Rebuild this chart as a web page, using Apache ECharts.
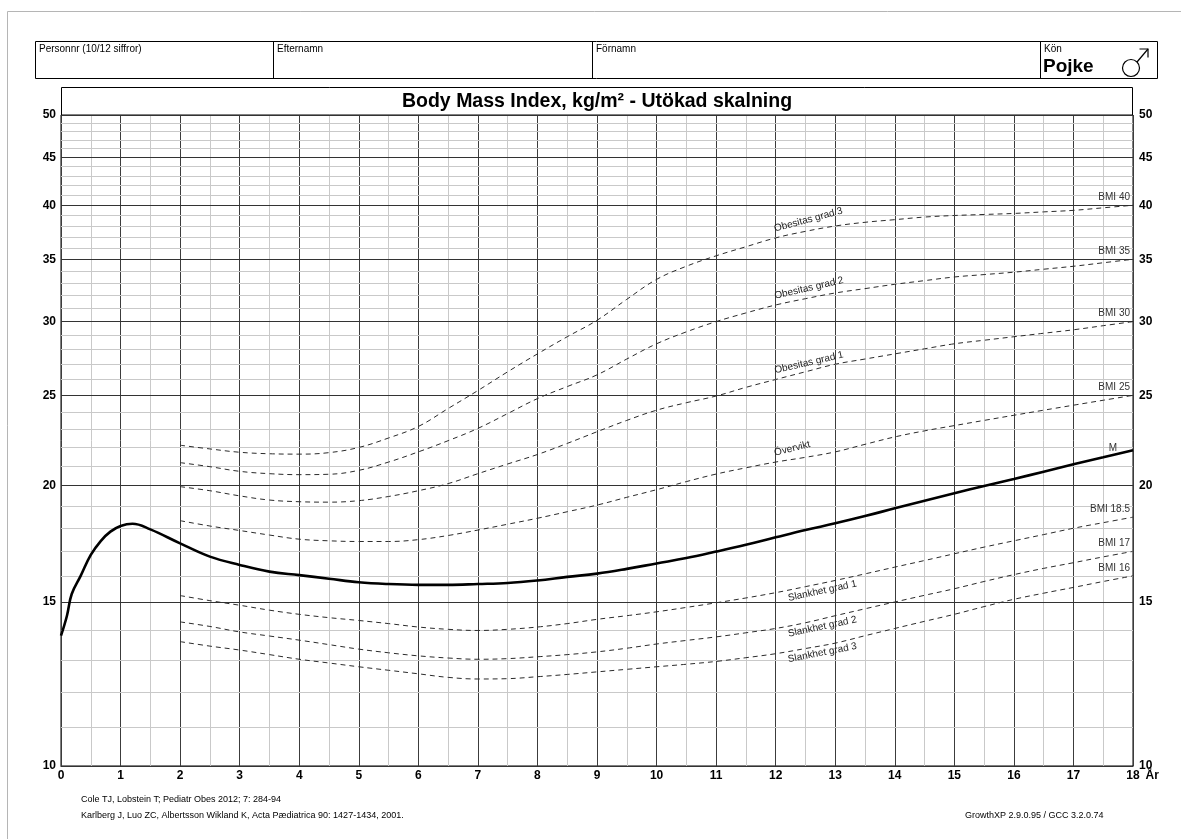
<!DOCTYPE html>
<html>
<head>
<meta charset="utf-8">
<title>Body Mass Index, kg/m² - Utökad skalning</title>
<script src="https://cdn.jsdelivr.net/npm/echarts@6/dist/echarts.min.js"></script>
<style>
  html, body { margin: 0; padding: 0; background: #fff; }
  #chart { width: 1181px; height: 839px; }
</style>
</head>
<body>
<div id="chart"></div>
<script>
// Age (years) at which the cut-off curves are tabulated
const refAges = [2, 2.5, 3, 3.5, 4, 4.5, 5, 5.5, 6, 6.5, 7, 7.5, 8, 8.5, 9, 9.5, 10,
  10.5, 11, 11.5, 12, 12.5, 13, 13.5, 14, 14.5, 15, 15.5, 16, 16.5, 17, 17.5, 18];

// Cole & Lobstein cut-offs (BMI at each age, reaching the adult value at 18)
const bmi40 = [22.1, 21.9, 21.72, 21.64, 21.62, 21.7, 21.98, 22.5, 23.15, 24.2, 25.3, 26.5, 27.7,
  28.9, 30.1, 31.7, 33.3, 34.4, 35.3, 36.1, 36.9, 37.5, 38.0, 38.35, 38.6, 38.85, 39.0,
  39.1, 39.2, 39.35, 39.5, 39.75, 40.0];
const bmi35 = [21.17, 20.96, 20.72, 20.6, 20.55, 20.57, 20.77, 21.2, 21.74, 22.35, 23.04, 23.9,
  24.8, 25.55, 26.3, 27.35, 28.4, 29.25, 30.0, 30.65, 31.26, 31.75, 32.2, 32.55, 32.9, 33.2,
  33.5, 33.7, 33.9, 34.15, 34.4, 34.7, 35.0];
const bmi30 = [19.95, 19.75, 19.5, 19.3, 19.22, 19.2, 19.27, 19.47, 19.75, 20.1, 20.6, 21.1, 21.6,
  22.2, 22.85, 23.5, 24.1, 24.55, 24.96, 25.5, 26.0, 26.5, 27.0, 27.35, 27.7, 28.05, 28.4,
  28.65, 28.9, 29.15, 29.4, 29.7, 30.0];
const bmi25 = [18.34, 18.1, 17.9, 17.7, 17.52, 17.45, 17.42, 17.42, 17.5, 17.68, 17.92, 18.18,
  18.45, 18.75, 19.06, 19.43, 19.8, 20.2, 20.58, 20.9, 21.2, 21.45, 21.74, 22.15, 22.56, 22.9,
  23.2, 23.5, 23.8, 24.1, 24.4, 24.7, 25.0];
const bmi185 = [15.24, 15.05, 14.88, 14.7, 14.55, 14.43, 14.33, 14.22, 14.1, 14.02, 13.98, 14.02,
  14.1, 14.22, 14.37, 14.5, 14.64, 14.8, 14.97, 15.15, 15.35, 15.58, 15.82, 16.08, 16.35, 16.62,
  16.9, 17.18, 17.45, 17.72, 18.0, 18.25, 18.5];
const bmi17 = [14.28, 14.12, 13.93, 13.79, 13.65, 13.5, 13.35, 13.23, 13.13, 13.06, 13.02, 13.04,
  13.1, 13.17, 13.26, 13.38, 13.52, 13.64, 13.76, 13.9, 14.05, 14.25, 14.5, 14.75, 15.0, 15.25,
  15.5, 15.78, 16.05, 16.3, 16.53, 16.77, 17.0];
const bmi16 = [13.6, 13.45, 13.32, 13.17, 13.02, 12.9, 12.78, 12.67, 12.56, 12.45, 12.4, 12.41,
  12.47, 12.54, 12.62, 12.7, 12.78, 12.86, 12.95, 13.07, 13.2, 13.37, 13.55, 13.8, 14.05, 14.3,
  14.55, 14.83, 15.1, 15.33, 15.55, 15.78, 16.0];

// Median BMI (M) for boys, birth to 18 years
const medianAges = [0, 0.1, 0.18, 0.33, 0.5, 0.67, 0.83, 1, 1.2, 1.5, 2, 2.5, 3, 3.5, 4, 4.5, 5,
  5.5, 6, 6.5, 7, 7.5, 8, 8.5, 9, 9.5, 10, 10.5, 11, 11.5, 12, 12.5, 13, 13.5, 14, 14.5, 15,
  15.5, 16, 16.5, 17, 17.5, 18];
const medianBmi = [13.8, 14.5, 15.3, 16.0, 16.85, 17.45, 17.85, 18.1, 18.2, 17.95, 17.34, 16.78,
  16.44, 16.17, 16.03, 15.89, 15.75, 15.68, 15.65, 15.65, 15.68, 15.72, 15.82, 15.96, 16.09,
  16.28, 16.5, 16.72, 16.99, 17.28, 17.6, 17.92, 18.22, 18.55, 18.91, 19.27, 19.63, 19.98,
  20.33, 20.7, 21.08, 21.45, 21.83];

// BMI gridlines: labelled every 5 units, fine lines every unit
const majorTicks = [10, 15, 20, 25, 30, 35, 40, 45, 50];
const minorTicks = [11, 12, 13, 14, 16, 17, 18, 19, 21, 22, 23, 24, 26, 27, 28, 29,
  31, 32, 33, 34, 36, 37, 38, 39, 41, 42, 43, 44, 46, 47, 48, 49];

// Curve names and their end labels
const curveNames = ['Obesitas grad 3', 'Obesitas grad 2', 'Obesitas grad 1', 'Övervikt',
  'Slankhet grad 1', 'Slankhet grad 2', 'Slankhet grad 3'];
const endLabels = ['BMI 40', 'BMI 35', 'BMI 30', 'BMI 25', 'BMI 18.5', 'BMI 17', 'BMI 16'];
const curveValues = [bmi40, bmi35, bmi30, bmi25, bmi185, bmi17, bmi16];

const FONT = '"Liberation Sans", Arial, Helvetica, sans-serif';
const pair = (xs, ys) => xs.map((x, i) => [x, ys[i]]);

// Horizontal gridlines with the BMI values printed on both sides
const axisLabelStyle = { color: '#000', fontFamily: FONT, fontWeight: 'bold', fontSize: 12 };
const gridLines = [];
minorTicks.forEach(v => gridLines.push({
  yAxis: v, lineStyle: { color: '#c9c9c9', width: 1, type: 'solid' }, label: { show: false }
}));
majorTicks.forEach(v => {
  gridLines.push({
    yAxis: v, lineStyle: { color: '#333', width: 1, type: 'solid' },
    label: Object.assign({ show: true, position: 'start', distance: 5, formatter: String(v) }, axisLabelStyle)
  });
  gridLines.push({
    yAxis: v, lineStyle: { color: '#333', width: 1, type: 'solid' },
    label: Object.assign({ show: true, position: 'end', distance: 6, formatter: String(v) }, axisLabelStyle)
  });
});

const labelAt12 = refAges.indexOf(12);
// rotation (degrees) and side of the curve for the in-chart names
const nameRotate = [15, 13, 13, 14, 12, 12, 11];
const nameBelow = [false, false, false, false, true, true, true];

const curveSeries = curveValues.map((vals, k) => ({
  name: curveNames[k],
  type: 'line',
  data: pair(refAges, vals),
  smooth: 0.4,
  symbol: 'none',
  z: 10,
  silent: true,
  lineStyle: { color: '#2b2b2b', width: 1, type: [5, 4] },
  markPoint: {
    symbol: 'circle', symbolSize: 0, silent: true, z: 11,
    itemStyle: { color: 'transparent' },
    data: [
      {
        coord: [18, vals[vals.length - 1]],
        label: {
          show: true, formatter: endLabels[k], position: 'top', align: 'right',
          distance: 3, offset: [-3, 0], color: '#333', fontFamily: FONT, fontSize: 10
        }
      },
      {
        coord: [12, vals[labelAt12]],
        label: {
          show: true, formatter: curveNames[k], position: 'right', distance: 0,
          align: 'left', verticalAlign: nameBelow[k] ? 'top' : 'bottom',
          offset: nameBelow[k] ? [11, 3] : [1, -4],
          rotate: nameRotate[k], color: '#222', fontFamily: FONT, fontSize: 10
        }
      }
    ]
  }
}));

const chart = echarts.init(document.getElementById('chart'), null, { renderer: 'canvas' });

chart.setOption({
  animation: false,
  backgroundColor: '#fff',
  grid: {
    left: 61, right: 48, top: 115, bottom: 73,
    show: true, borderColor: '#000', borderWidth: 1, backgroundColor: 'transparent'
  },
  xAxis: {
    type: 'value', min: 0, max: 18, interval: 1,
    name: 'År', nameLocation: 'end', nameGap: 9,
    nameTextStyle: { color: '#000', fontFamily: FONT, fontWeight: 'bold', fontSize: 12,
      verticalAlign: 'top', align: 'left', padding: [4, 0, 0, 0] },
    axisLine: { show: true, lineStyle: { color: '#000', width: 1 } },
    axisTick: { show: false },
    axisLabel: { color: '#000', fontFamily: FONT, fontWeight: 'bold', fontSize: 12, margin: 4,
      showMinLabel: true, showMaxLabel: true },
    splitLine: { show: true, lineStyle: { color: '#3c3c3c', width: 1 } },
    minorTick: { show: false, splitNumber: 2 },
    minorSplitLine: { show: true, lineStyle: { color: '#c9c9c9', width: 1 } }
  },
  yAxis: {
    type: 'log', logBase: 10, min: 10, max: 50,
    axisLine: { show: false }, axisTick: { show: false },
    axisLabel: { show: false }, splitLine: { show: false }
  },
  graphic: [
    // page frame
    { type: 'polyline', silent: true, shape: { points: [[7.5, 839], [7.5, 11.5], [1181, 11.5]] },
      style: { stroke: '#b5b5b5', fill: null, lineWidth: 1 } },
    // patient header
    { type: 'rect', silent: true, shape: { x: 35.5, y: 41.5, width: 1122, height: 37 },
      style: { stroke: '#000', fill: null, lineWidth: 1 } },
    { type: 'line', silent: true, shape: { x1: 273.5, y1: 41.5, x2: 273.5, y2: 78.5 }, style: { stroke: '#000', lineWidth: 1 } },
    { type: 'line', silent: true, shape: { x1: 592.5, y1: 41.5, x2: 592.5, y2: 78.5 }, style: { stroke: '#000', lineWidth: 1 } },
    { type: 'line', silent: true, shape: { x1: 1040.5, y1: 41.5, x2: 1040.5, y2: 78.5 }, style: { stroke: '#000', lineWidth: 1 } },
    { type: 'text', silent: true, x: 39, y: 44, style: { text: 'Personnr (10/12 siffror)', font: '10px ' + FONT, fill: '#000' } },
    { type: 'text', silent: true, x: 277, y: 44, style: { text: 'Efternamn', font: '10px ' + FONT, fill: '#000' } },
    { type: 'text', silent: true, x: 596, y: 44, style: { text: 'Förnamn', font: '10px ' + FONT, fill: '#000' } },
    { type: 'text', silent: true, x: 1044, y: 44, style: { text: 'Kön', font: '10px ' + FONT, fill: '#000' } },
    { type: 'text', silent: true, x: 1043, y: 57, style: { text: 'Pojke', font: 'bold 19px ' + FONT, fill: '#000' } },
    // male sign
    { type: 'circle', silent: true, shape: { cx: 1131, cy: 68, r: 8.5 }, style: { stroke: '#000', fill: null, lineWidth: 1.2 } },
    { type: 'line', silent: true, shape: { x1: 1137, y1: 62, x2: 1148, y2: 49 }, style: { stroke: '#000', lineWidth: 1.2 } },
    { type: 'polyline', silent: true, shape: { points: [[1139.5, 49], [1148, 49], [1148, 57.5]] },
      style: { stroke: '#000', fill: null, lineWidth: 1.2 } },
    // title band above the plot
    { type: 'rect', silent: true, shape: { x: 61.5, y: 87.5, width: 1071, height: 27.5 },
      style: { stroke: '#000', fill: '#fff', lineWidth: 1 } },
    { type: 'text', silent: true, x: 597, y: 101.5,
      style: { text: 'Body Mass Index, kg/m² - Utökad skalning', font: 'bold 19.5px ' + FONT,
        fill: '#000', textAlign: 'center', textVerticalAlign: 'middle' } },
    // sources
    { type: 'text', silent: true, x: 81, y: 795, style: { text: 'Cole TJ, Lobstein T; Pediatr Obes 2012; 7: 284-94', font: '9px ' + FONT, fill: '#000' } },
    { type: 'text', silent: true, x: 81, y: 811, style: { text: 'Karlberg J, Luo ZC, Albertsson Wikland K, Acta Pædiatrica 90: 1427-1434, 2001.', font: '9px ' + FONT, fill: '#000' } },
    { type: 'text', silent: true, x: 965, y: 811, style: { text: 'GrowthXP 2.9.0.95 / GCC 3.2.0.74', font: '9px ' + FONT, fill: '#000' } }
  ],
  series: [
    {
      name: 'gridlines',
      type: 'line',
      data: [],
      silent: true,
      z: 1,
      markLine: {
        silent: true, z: 1, symbol: ['none', 'none'], animation: false,
        data: gridLines
      }
    },
    ...curveSeries,
    {
      name: 'M',
      type: 'line',
      data: pair(medianAges, medianBmi),
      smooth: 0.4,
      symbol: 'none',
      z: 12,
      silent: true,
      lineStyle: { color: '#000', width: 2.6 },
      markPoint: {
        symbol: 'circle', symbolSize: 0, silent: true, z: 13,
        itemStyle: { color: 'transparent' },
        data: [{
          coord: [18, medianBmi[medianBmi.length - 1]],
          label: { show: true, formatter: 'M', position: 'top', align: 'right', distance: 0,
            offset: [-16, 3], color: '#333', fontFamily: FONT, fontSize: 10 }
        }]
      }
    }
  ]
});
</script>
</body>
</html>
